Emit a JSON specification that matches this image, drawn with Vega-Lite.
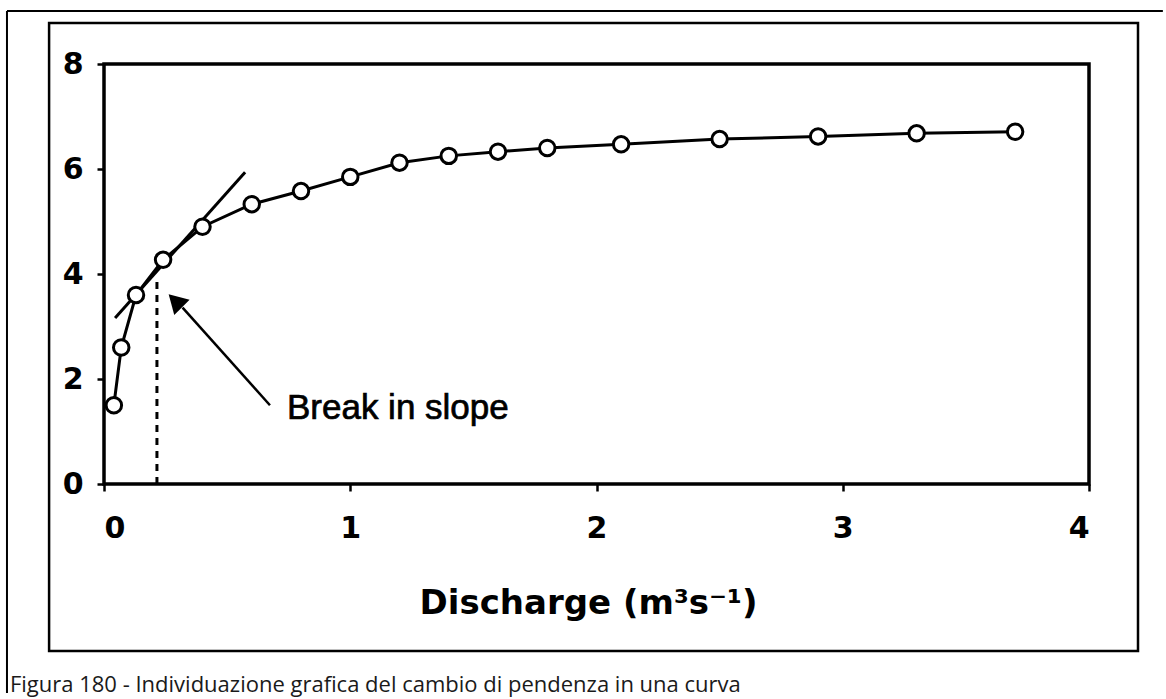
{
  "$schema": "https://vega.github.io/schema/vega-lite/v6.json",
  "width": 985,
  "height": 420,
  "autosize": {"type": "none"},
  "padding": {"left": 104, "top": 64, "right": 77, "bottom": 215},
  "background": "white",
  "config": {
    "view": {"stroke": "black", "strokeWidth": 3.5},
    "font": "DejaVu Sans",
    "axis": {"grid": false, "domain": false, "tickColor": "black", "tickWidth": 2.5, "tickSize": 7, "labelColor": "black", "labelFont": "DejaVu Sans", "labelFontWeight": "bold", "labelFontSize": 30, "titleColor": "black"}
  },
  "datasets": {
    "curve": [
      {"q": 0.04, "s": 1.5},
      {"q": 0.07, "s": 2.6},
      {"q": 0.13, "s": 3.6},
      {"q": 0.24, "s": 4.27},
      {"q": 0.4, "s": 4.9},
      {"q": 0.6, "s": 5.33},
      {"q": 0.8, "s": 5.58},
      {"q": 1.0, "s": 5.85},
      {"q": 1.2, "s": 6.12},
      {"q": 1.4, "s": 6.25},
      {"q": 1.6, "s": 6.33},
      {"q": 1.8, "s": 6.4},
      {"q": 2.1, "s": 6.47},
      {"q": 2.5, "s": 6.57},
      {"q": 2.9, "s": 6.62},
      {"q": 3.3, "s": 6.68},
      {"q": 3.7, "s": 6.71}
    ],
    "tangent": [
      {"q": 0.045, "s": 3.16},
      {"q": 0.573, "s": 5.94}
    ],
    "one": [{"k": 1}]
  },
  "layer": [
    {
      "data": {"name": "curve"},
      "mark": {"type": "line", "color": "black", "strokeWidth": 3},
      "encoding": {
        "x": {"field": "q", "type": "quantitative", "scale": {"domain": [0, 4], "nice": false, "zero": false},
          "axis": {"values": [0, 1, 2, 3, 4], "format": "d", "labelPadding": 22, "title": "Discharge (m³s⁻¹)", "titleFont": "DejaVu Sans", "titleFontSize": 34, "titleFontWeight": "bold", "titlePadding": 43, "titleX": 484}},
        "y": {"field": "s", "type": "quantitative", "scale": {"domain": [0, 8], "nice": false, "zero": false},
          "axis": {"values": [0, 2, 4, 6, 8], "format": "d", "labelPadding": 14, "title": null}}
      }
    },
    {
      "data": {"name": "one"},
      "mark": {"type": "rule", "color": "black", "strokeWidth": 2, "clip": false},
      "encoding": {
        "x": {"datum": -0.394, "type": "quantitative"},
        "y": {"datum": -3.98, "type": "quantitative"},
        "y2": {"datum": 9.01}
      }
    },
    {
      "data": {"name": "one"},
      "mark": {"type": "rule", "color": "black", "strokeWidth": 2, "clip": false},
      "encoding": {
        "x": {"datum": -0.394, "type": "quantitative"},
        "x2": {"datum": 4.3},
        "y": {"datum": 9.01, "type": "quantitative"}
      }
    },
    {
      "data": {"name": "one"},
      "mark": {"type": "rect", "fill": null, "stroke": "black", "strokeWidth": 2.5, "clip": false},
      "encoding": {
        "x": {"datum": -0.223, "type": "quantitative"},
        "x2": {"datum": 4.199},
        "y": {"datum": -3.18, "type": "quantitative"},
        "y2": {"datum": 8.78}
      }
    },
    {
      "data": {"name": "tangent"},
      "mark": {"type": "line", "color": "black", "strokeWidth": 3},
      "encoding": {
        "x": {"field": "q", "type": "quantitative"},
        "y": {"field": "s", "type": "quantitative"}
      }
    },
    {
      "data": {"name": "one"},
      "mark": {"type": "rule", "color": "black", "strokeWidth": 3, "strokeDash": [7, 6]},
      "encoding": {
        "x": {"datum": 0.215, "type": "quantitative"},
        "y": {"datum": 0, "type": "quantitative"},
        "y2": {"datum": 3.95}
      }
    },
    {
      "data": {"name": "one"},
      "mark": {"type": "rule", "color": "black", "strokeWidth": 2.5},
      "encoding": {
        "x": {"datum": 0.674, "type": "quantitative"},
        "y": {"datum": 1.5, "type": "quantitative"},
        "x2": {"datum": 0.319},
        "y2": {"datum": 3.36}
      }
    },
    {
      "data": {"name": "one"},
      "mark": {"type": "point", "shape": "triangle-up", "filled": true, "color": "black", "size": 470, "angle": 315, "opacity": 1},
      "encoding": {
        "x": {"datum": 0.2895, "type": "quantitative"},
        "y": {"datum": 3.49, "type": "quantitative"}
      }
    },
    {
      "data": {"name": "curve"},
      "mark": {"type": "point", "shape": "circle", "filled": true, "fill": "white", "stroke": "black", "strokeWidth": 3, "size": 240, "opacity": 1},
      "encoding": {
        "x": {"field": "q", "type": "quantitative"},
        "y": {"field": "s", "type": "quantitative"}
      }
    },
    {
      "data": {"name": "one"},
      "mark": {"type": "text", "text": "Break in slope", "align": "left", "baseline": "middle", "font": "Liberation Sans", "fontSize": 35, "color": "black", "stroke": "black", "strokeWidth": 0.7},
      "encoding": {
        "x": {"datum": 0.743, "type": "quantitative"},
        "y": {"datum": 1.45, "type": "quantitative"}
      }
    },
    {
      "data": {"name": "one"},
      "mark": {"type": "text", "text": "Figura 180 - Individuazione grafica del cambio di pendenza in una curva", "align": "left", "baseline": "middle", "font": "Open Sans", "fontSize": 22, "color": "#1a1a1a", "clip": false},
      "encoding": {
        "x": {"datum": -0.382, "type": "quantitative"},
        "y": {"datum": -3.83, "type": "quantitative"}
      }
    }
  ]
}
